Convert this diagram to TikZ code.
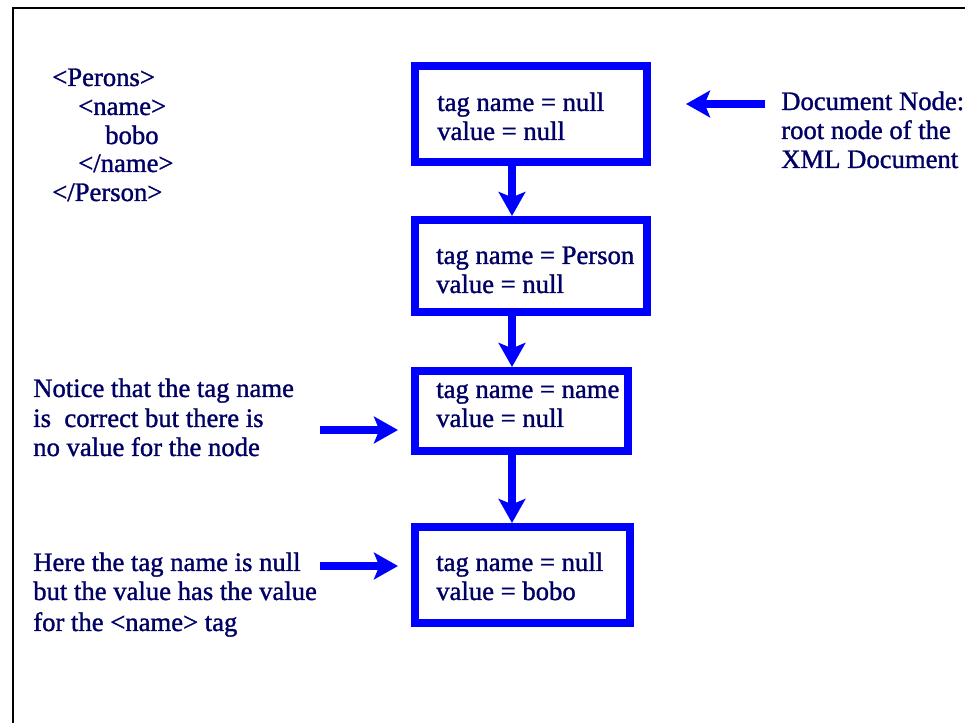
\documentclass[tikz,border=0pt]{standalone}
\usepackage{fontspec}
\setmainfont{Liberation Serif}[FakeBold=1.2]
\usetikzlibrary{arrows.meta}
\definecolor{navy}{RGB}{0,0,100}
\definecolor{pblue}{RGB}{0,0,255}
\begin{document}
\begin{tikzpicture}[x=0.75pt,y=-0.75pt,
  txt/.style={anchor=base west,inner sep=0pt,text=navy,font=\fontsize{20}{22}\selectfont},
  nodebox/.style={draw=pblue,line width=6pt,rectangle,inner sep=0pt},
  link/.style={draw=pblue,line width=6pt,-{Stealth[length=18pt,width=20pt,inset=4pt]}}]
\useasboundingbox (0,0) rectangle (965,723);
% frame
\draw[line width=1.5pt] (13,723) -- (13,8) -- (965,8);
% XML source
\node[txt] (x1) at (52,86) {<Perons>};
\node[txt] (x2) at (78,115) {<name>};
\node[txt] (x3) at (105,144) {bobo};
\node[txt] (x4) at (78,172) {</name>};
\node[txt] (x5) at (52,201) {</Person>};
% boxes
\node[nodebox,minimum width=174pt,minimum height=72pt] (b1) at (531,114) {};
\node[nodebox,minimum width=174pt,minimum height=69pt] (b2) at (531,266) {};
\node[nodebox,minimum width=159.75pt,minimum height=60pt] (b3) at (521.5,411) {};
\node[nodebox,minimum width=161.25pt,minimum height=72pt] (b4) at (522.5,575) {};
% box texts
\node[txt] (t1a) at (437,111) {tag name = null};
\node[txt] (t1b) at (437,140) {value = null};
\node[txt] (t2a) at (436,264) {tag name = Person};
\node[txt] (t2b) at (436,293) {value = null};
\node[txt] (t3a) at (436,398) {tag name = name};
\node[txt] (t3b) at (436,427) {value = null};
\node[txt] (t4a) at (436,571) {tag name = null};
\node[txt] (t4b) at (436,600) {value = bobo};
% annotations
\node[txt] (d1) at (781,110) {Document Node:};
\node[txt] (d2) at (781,139) {root node of the};
\node[txt] (d3) at (781,168) {XML Document};
\node[txt] (n1) at (33,397) {Notice that the tag name};
\node[txt] (n2) at (33,427) {is\ \ correct but there is};
\node[txt] (n3) at (33,456) {no value for the node};
\node[txt] (h1) at (33,571) {Here the tag name is null};
\node[txt] (h2) at (33,600) {but the value has the value};
\node[txt] (h3) at (33,631) {for the <name> tag};
% vertical connectors
\coordinate (ax) at (512,0);
\draw[link] (b1.south -| ax) -- (b2.north -| ax);
\draw[link] (b2.south -| ax) -- (b3.north -| ax);
\draw[link] (b3.south -| ax) -- (b4.north -| ax);
% horizontal pointers
\coordinate (ds) at (765,104);
\coordinate (de) at (686,104);
\draw[link] (ds) -- (de);
\coordinate (ns) at (320,430);
\coordinate (ne) at (398,430);
\draw[link] (ns) -- (ne);
\coordinate (hs) at (320,566);
\coordinate (he) at (398,566);
\draw[link] (hs) -- (he);
\end{tikzpicture}
\end{document}
